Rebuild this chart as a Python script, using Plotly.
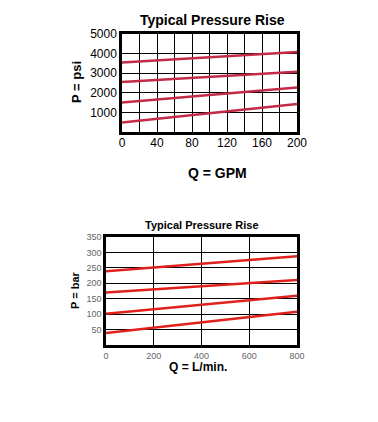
import plotly.graph_objects as go

# Top chart: P (psi) vs Q (GPM)
gpm_q = [0, 100, 200]
psi_line1 = [3550, 3800, 4080]
psi_line2 = [2550, 2800, 3070]
psi_line3 = [1500, 1870, 2270]
psi_line4 = [480, 950, 1430]
gpm_ticks = [0, 20, 40, 60, 80, 100, 120, 140, 160, 180, 200]
gpm_labels = ["0", "", "40", "", "80", "", "120", "", "160", "", "200"]
psi_ticks = [0, 1000, 2000, 3000, 4000, 5000]
psi_labels = ["", "1000", "2000", "3000", "4000", "5000"]

# Bottom chart: P (bar) vs Q (L/min)
lpm_q = [0, 400, 800]
bar_line1 = [239, 263, 288]
bar_line2 = [170, 191, 211]
bar_line3 = [101, 131, 160]
bar_line4 = [39, 73, 108]
lpm_ticks = [0, 200, 400, 600, 800]
bar_ticks = [50, 100, 150, 200, 250, 300, 350]

W, H = 378, 422
fig = go.Figure()

top_color = "#c22a48"
bot_color = "#e0201c"
for ys in [psi_line1, psi_line2, psi_line3, psi_line4]:
    fig.add_trace(go.Scatter(x=gpm_q, y=ys, mode="lines", line=dict(color=top_color, width=2.5),
                             xaxis="x", yaxis="y", showlegend=False, hoverinfo="skip"))
for ys in [bar_line1, bar_line2, bar_line3, bar_line4]:
    fig.add_trace(go.Scatter(x=lpm_q, y=ys, mode="lines", line=dict(color=bot_color, width=2.5),
                             xaxis="x2", yaxis="y2", showlegend=False, hoverinfo="skip"))

def px_x(a, b):
    return [a / W, b / W]

def px_y(top, bottom):
    return [1 - bottom / H, 1 - top / H]

axis_common = dict(showline=True, mirror=True, linecolor="black", linewidth=2.5,
                   showgrid=True, gridcolor="black", gridwidth=1.2, zeroline=False,
                   ticks="", fixedrange=True, automargin=False)

fig.update_layout(
    width=W, height=H,
    margin=dict(l=0, r=0, t=0, b=0, pad=0),
    paper_bgcolor="white", plot_bgcolor="white",
    font=dict(family="Liberation Sans, Arial, sans-serif", color="black"),
    xaxis=dict(domain=px_x(122, 297), range=[0, 200], tickvals=gpm_ticks, ticktext=gpm_labels,
               tickfont=dict(size=12, color="black"), anchor="y", ticklabelstandoff=-2,
               **axis_common),
    yaxis=dict(domain=px_y(34, 132), range=[0, 5000], tickvals=psi_ticks, ticktext=psi_labels,
               tickfont=dict(size=12, color="black"), anchor="x",
               **axis_common),
    xaxis2=dict(domain=px_x(106, 297), range=[0, 800], tickvals=lpm_ticks,
                tickfont=dict(size=9, color="#666666"), anchor="y2", **axis_common),
    yaxis2=dict(domain=px_y(237, 345), range=[0, 350], tickvals=bar_ticks,
                tickfont=dict(size=9, color="#666666"), anchor="x2", **axis_common),
    annotations=[
        dict(text="<b>Typical Pressure Rise</b>", x=212 / W, y=1 - 20 / H, xref="paper", yref="paper",
             showarrow=False, font=dict(size=14), xanchor="center", yanchor="middle"),
        dict(text="<b>P = psi</b>", x=76 / W, y=1 - 82 / H, xref="paper", yref="paper",
             showarrow=False, font=dict(size=13), textangle=-90, xanchor="center", yanchor="middle"),
        dict(text="<b>Q = GPM</b>", x=217 / W, y=1 - 173 / H, xref="paper", yref="paper",
             showarrow=False, font=dict(size=14), xanchor="center", yanchor="middle"),
        dict(text="<b>Typical Pressure Rise</b>", x=202 / W, y=1 - 225 / H, xref="paper", yref="paper",
             showarrow=False, font=dict(size=11), xanchor="center", yanchor="middle"),
        dict(text="<b>P = bar</b>", x=75 / W, y=1 - 290 / H, xref="paper", yref="paper",
             showarrow=False, font=dict(size=11), textangle=-90, xanchor="center", yanchor="middle"),
        dict(text="<b>Q = L/min.</b>", x=198 / W, y=1 - 367 / H, xref="paper", yref="paper",
             showarrow=False, font=dict(size=12), xanchor="center", yanchor="middle"),
    ],
)

fig.write_html("out.html", config={"displayModeBar": False},
               post_script="document.body.style.margin='0';document.body.style.overflow='hidden';")
